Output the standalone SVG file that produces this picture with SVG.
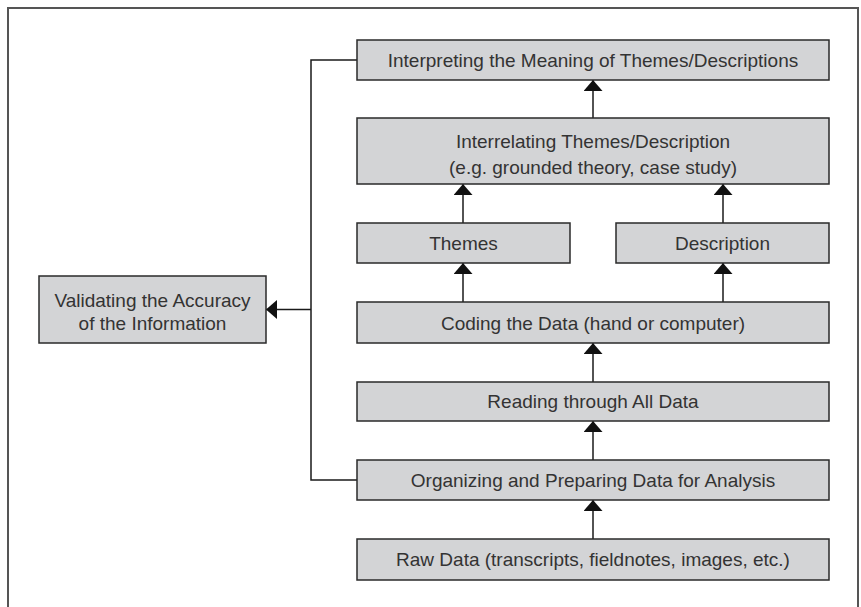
<svg xmlns="http://www.w3.org/2000/svg" width="861" height="607" viewBox="0 0 861 607">
<defs>
<marker id="ah" viewBox="0 0 11 19" refX="11" refY="9.5" markerWidth="11" markerHeight="19" markerUnits="userSpaceOnUse" orient="auto">
<path d="M0,0 L11,9.5 L0,19 Z" fill="#111"/>
</marker>
<style>
.box{fill:#d3d4d6;stroke:#2a2a2a;stroke-width:1.5}
.t{font-family:"Liberation Sans",Arial,sans-serif;font-size:19px;fill:#333;text-anchor:middle}
.c{fill:none;stroke:#1a1a1a;stroke-width:1.5}
</style>
</defs>
<rect x="0" y="0" width="861" height="607" fill="#fff"/>
<rect x="8" y="8" width="850" height="620" fill="none" stroke="#555" stroke-width="2"/>
<g id="connectors">
<path class="c" d="M593,118 V80" marker-end="url(#ah)"/>
<path class="c" d="M463,223 V184" marker-end="url(#ah)"/>
<path class="c" d="M723,223 V184" marker-end="url(#ah)"/>
<path class="c" d="M463,302 V263" marker-end="url(#ah)"/>
<path class="c" d="M723,302 V263" marker-end="url(#ah)"/>
<path class="c" d="M593,382 V343" marker-end="url(#ah)"/>
<path class="c" d="M593,460 V421" marker-end="url(#ah)"/>
<path class="c" d="M593,539 V500" marker-end="url(#ah)"/>
<path class="c" d="M357,60 H311 V480 H357"/>
<path class="c" d="M311,309.5 H266" marker-end="url(#ah)"/>
</g>
<g id="interpreting">
<rect class="box" x="357" y="40" width="472" height="40"/>
<text class="t" x="593" y="67">Interpreting the Meaning of Themes/Descriptions</text>
</g>
<g id="interrelating">
<rect class="box" x="357" y="118" width="472" height="66"/>
<text class="t" x="593" y="148">Interrelating Themes/Description</text>
<text class="t" x="593" y="174">(e.g. grounded theory, case study)</text>
</g>
<g id="themes">
<rect class="box" x="357" y="223" width="213" height="40"/>
<text class="t" x="463.5" y="250">Themes</text>
</g>
<g id="description">
<rect class="box" x="616" y="223" width="213" height="40"/>
<text class="t" x="722.5" y="250">Description</text>
</g>
<g id="validating">
<rect class="box" x="39" y="276" width="227" height="67"/>
<text class="t" x="152.5" y="307">Validating the Accuracy</text>
<text class="t" x="152.5" y="330">of the Information</text>
</g>
<g id="coding">
<rect class="box" x="357" y="302" width="472" height="41"/>
<text class="t" x="593" y="330">Coding the Data (hand or computer)</text>
</g>
<g id="reading">
<rect class="box" x="357" y="382" width="472" height="39"/>
<text class="t" x="593" y="408">Reading through All Data</text>
</g>
<g id="organizing">
<rect class="box" x="357" y="460" width="472" height="40"/>
<text class="t" x="593" y="487">Organizing and Preparing Data for Analysis</text>
</g>
<g id="raw">
<rect class="box" x="357" y="539" width="472" height="41"/>
<text class="t" x="593" y="566">Raw Data (transcripts, fieldnotes, images, etc.)</text>
</g>
</svg>
